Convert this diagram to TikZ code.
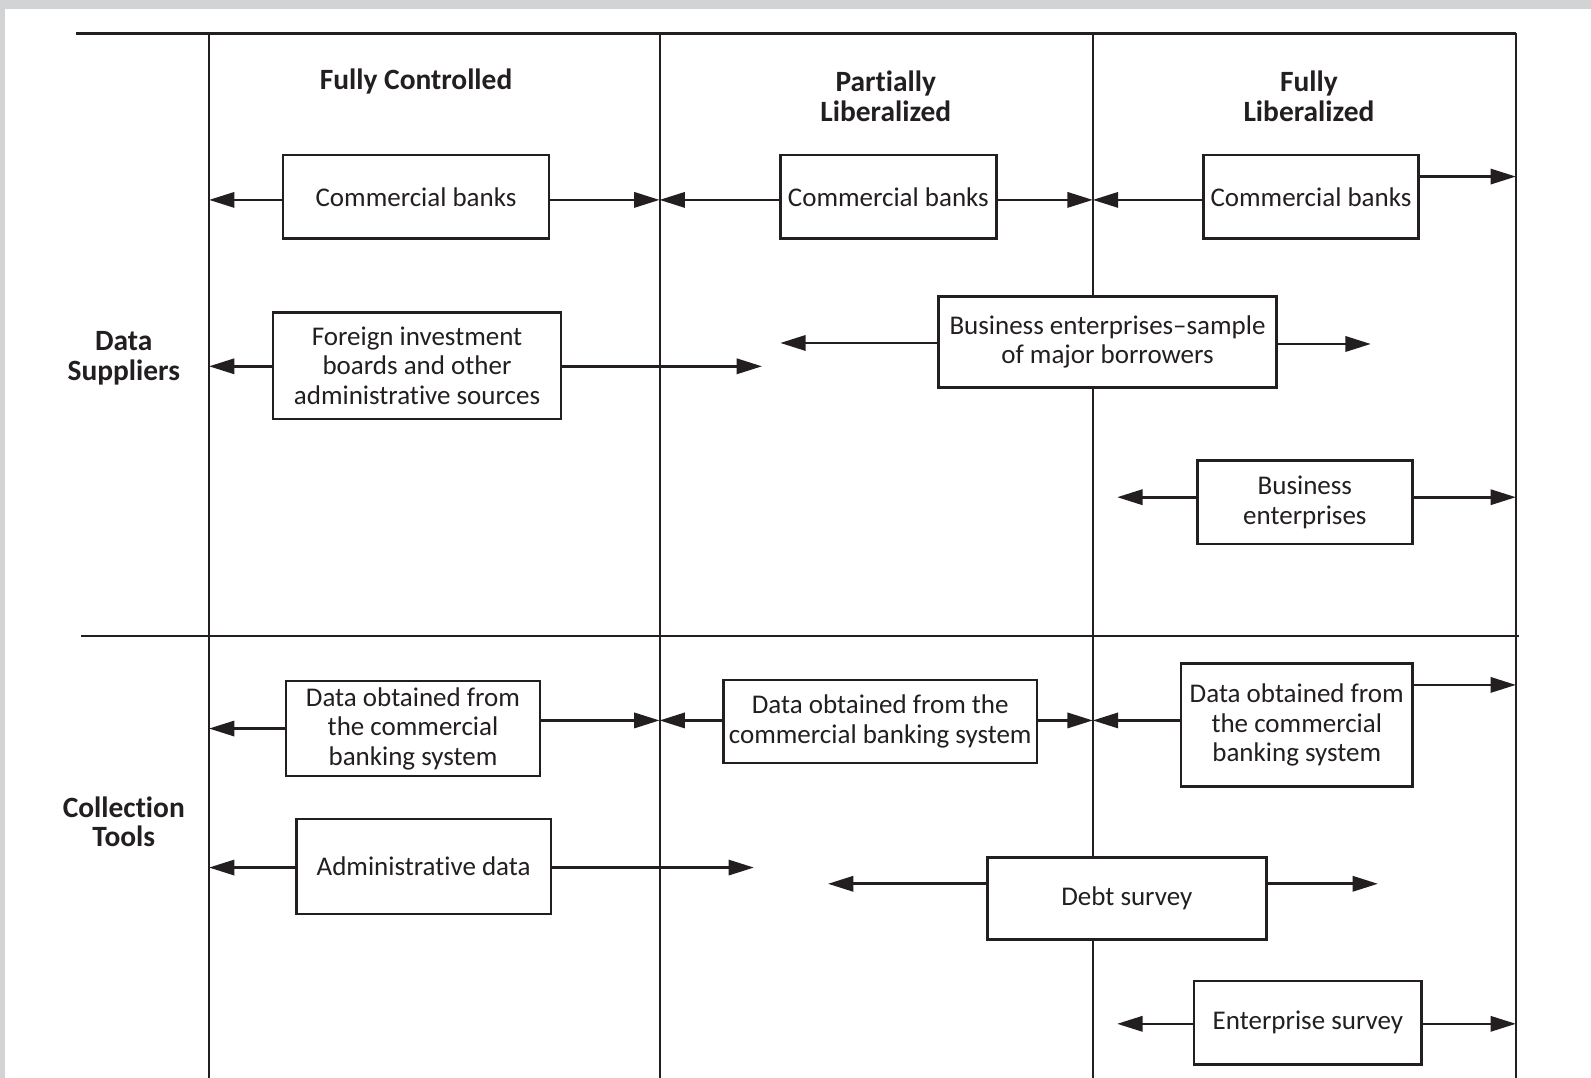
\documentclass[tikz,border=0pt]{standalone}
\usepackage{fontspec}
\setmainfont[Ligatures=NoCommon,RawFeature={-calt;-dlig}]{Carlito}
\usetikzlibrary{arrows.meta}
\definecolor{ink}{HTML}{231F20}
\definecolor{framegray}{HTML}{D1D3D4}
\tikzset{
  box/.style={draw=ink, fill=white, line width=1.2pt, align=center, inner sep=0pt,
    font=\fontsize{13.3}{14.5}\selectfont, text=ink},
  arr/.style={draw=ink, line width=1.3pt, -{Triangle[length=12.5pt,width=7.5pt]}},
  rulel/.style={draw=ink, line width=1pt},
  head/.style={align=center, inner sep=0pt, text=ink,
    font=\bfseries\fontsize{14.5}{14.5}\selectfont},
}
\begin{document}
\begin{tikzpicture}[x=0.5pt,y=-0.5pt]
\useasboundingbox (0,0) rectangle (1568,1062);
\fill[white] (0,0) rectangle (1568,1062);
\fill[framegray] (0,0) rectangle (1568,8.9);
\fill[framegray] (0,0) rectangle (4.9,1062);

% column lines
\coordinate (L1) at (206,33);
\coordinate (L2) at (650,33);
\coordinate (L3) at (1077,33);
\coordinate (L4) at (1494,33);
\coordinate (T0) at (75,33);
\coordinate (M0) at (80,627);
\coordinate (M1) at (1497,627);
\draw[rulel] (T0) -- (L4);
\draw[rulel] (M0) -- (M1);
\foreach \c in {L1,L2,L3,L4} \draw[rulel] (\c) -- (\c |- 0,1062);

% headers
\node[head] (h1) at (410,80) {Fully Controlled};
\node[head] (h2) at (873,95) {Partially\\Liberalized};
\node[head] (h3) at (1290,95) {Fully\\Liberalized};
\node[head] (r1) at (122,353) {Data\\Suppliers};
\node[head] (r2) at (122,810) {Collection\\Tools};

% boxes
\node[box, minimum width=131pt, minimum height=41pt] (cb1) at (410,194) {Commercial banks};
\node[box, minimum width=106.5pt, minimum height=41pt] (cb2) at (875.5,194) {Commercial banks};
\node[box, minimum width=106pt, minimum height=41pt] (cb3) at (1292,194) {Commercial banks};
\node[box, minimum width=142pt, minimum height=52.5pt] (fib) at (411,360.5) {Foreign investment\\boards and other\\administrative sources};
\node[box, minimum width=166.5pt, minimum height=45pt] (bes) at (1091.5,337) {Business enterprises--sample\\of major borrowers};
\node[box, minimum width=106pt, minimum height=41pt] (be) at (1286,495) {Business\\enterprises};
\node[box, minimum width=125pt, minimum height=47pt] (do1) at (407,718) {Data obtained from\\the commercial\\banking system};
\node[box, minimum width=154.5pt, minimum height=41pt] (do2) at (867.5,711) {Data obtained from the\\commercial banking system};
\node[box, minimum width=114pt, minimum height=60.5pt] (do3) at (1278,714.5) {Data obtained from\\the commercial\\banking system};
\node[box, minimum width=125.5pt, minimum height=47pt] (ad) at (417.5,854) {Administrative data};
\node[box, minimum width=137.5pt, minimum height=40.5pt] (ds) at (1110.5,885.5) {Debt survey};
\node[box, minimum width=112pt, minimum height=41pt] (es) at (1289,1008) {Enterprise survey};

% free arrow ends
\coordinate (fibR) at (751,361);
\coordinate (besL) at (769,338);
\coordinate (besR) at (1351,339);
\coordinate (beL) at (1101,490);
\coordinate (adR) at (743,855);
\coordinate (dsL) at (816,871);
\coordinate (dsR) at (1358,871);
\coordinate (esL) at (1101,1009);

% connectors
\draw[arr] (cb1.west |- 0,197) -- (L1 |- 0,197);
\draw[arr] (cb1.east |- 0,197) -- (L2 |- 0,197);
\draw[arr] (cb2.west |- 0,197) -- (L2 |- 0,197);
\draw[arr] (cb2.east |- 0,197) -- (L3 |- 0,197);
\draw[arr] (cb3.west |- 0,197) -- (L3 |- 0,197);
\draw[arr] (cb3.east |- 0,174) -- (L4 |- 0,174);
\draw[arr] (fib.west |- fibR) -- (L1 |- fibR);
\draw[arr] (fib.east |- fibR) -- (fibR);
\draw[arr] (bes.west |- besL) -- (besL);
\draw[arr] (bes.east |- besR) -- (besR);
\draw[arr] (be.west |- beL) -- (beL);
\draw[arr] (be.east |- beL) -- (L4 |- beL);
\draw[arr] (do1.west |- 0,718) -- (L1 |- 0,718);
\draw[arr] (do1.east |- 0,710) -- (L2 |- 0,710);
\draw[arr] (do2.west |- 0,710) -- (L2 |- 0,710);
\draw[arr] (do2.east |- 0,710) -- (L3 |- 0,710);
\draw[arr] (do3.west |- 0,710) -- (L3 |- 0,710);
\draw[arr] (do3.east |- 0,675) -- (L4 |- 0,675);
\draw[arr] (ad.west |- adR) -- (L1 |- adR);
\draw[arr] (ad.east |- adR) -- (adR);
\draw[arr] (ds.west |- dsL) -- (dsL);
\draw[arr] (ds.east |- dsR) -- (dsR);
\draw[arr] (es.west |- esL) -- (esL);
\draw[arr] (es.east |- esL) -- (L4 |- esL);
\end{tikzpicture}
\end{document}
